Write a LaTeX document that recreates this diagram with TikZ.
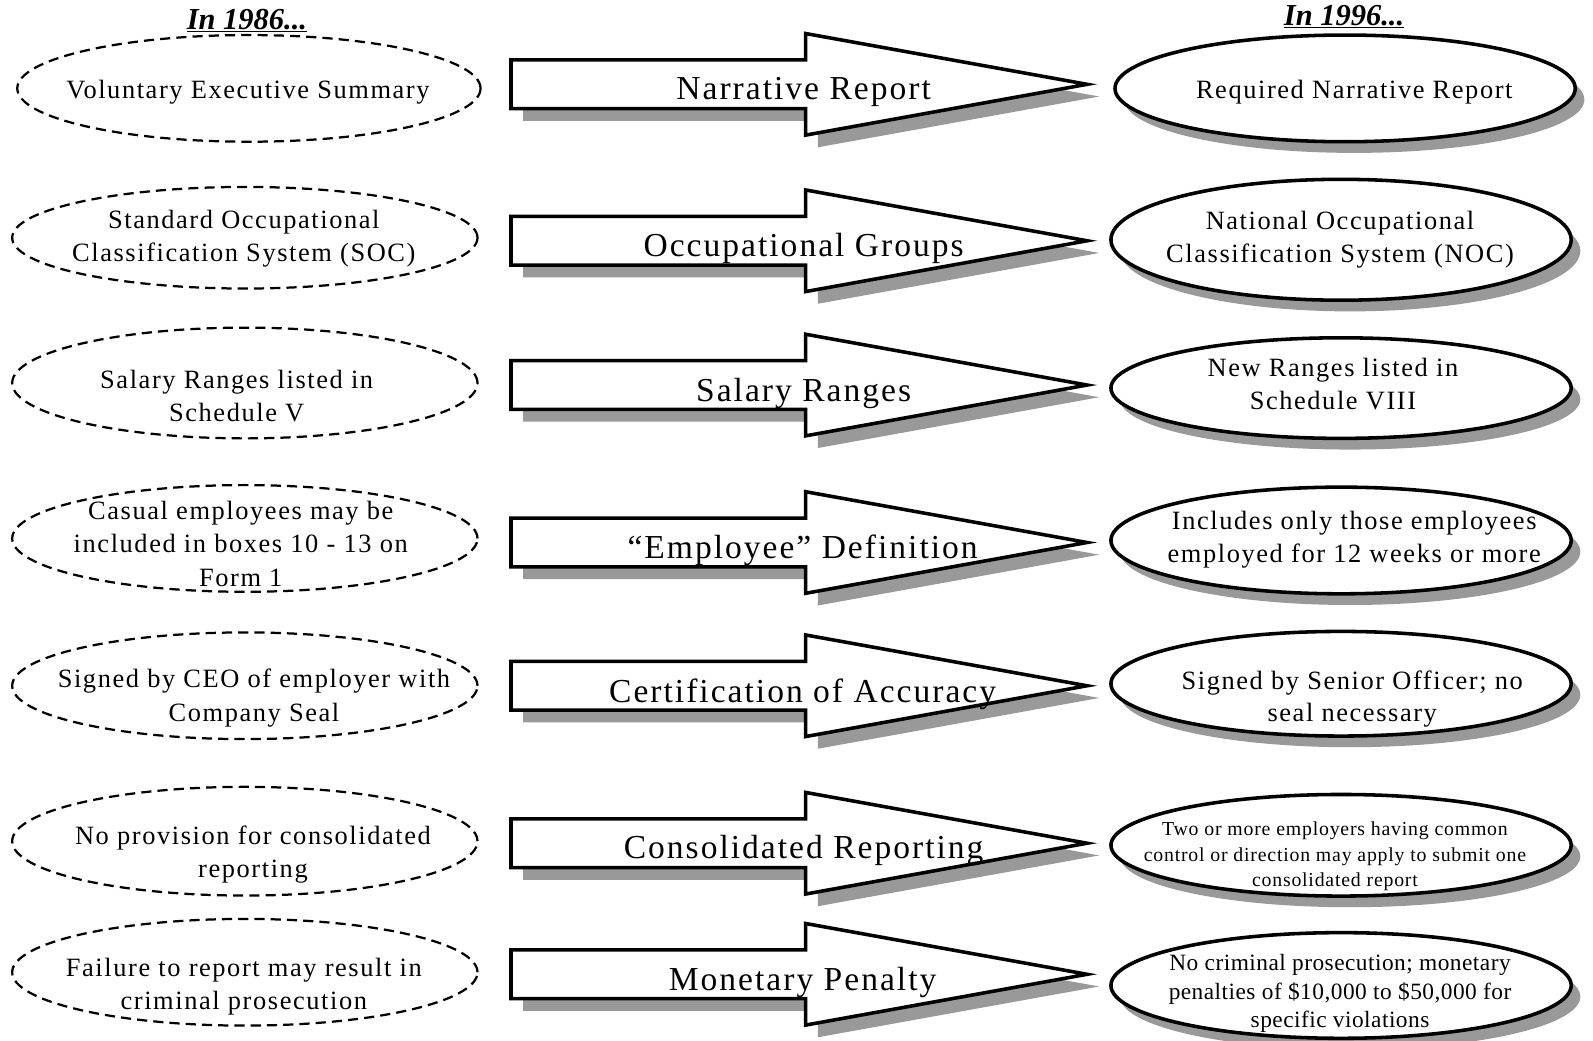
\documentclass[tikz,border=0pt]{standalone}
\usepackage{fontspec}
\setmainfont{Liberation Serif}
\usetikzlibrary{shapes.geometric,shadows}

\begin{document}
\begin{tikzpicture}[x=1pt,y=-1pt,
  oldring/.style={ellipse,draw,dash pattern=on 10pt off 6pt,line width=2.2pt,inner sep=0pt},
  newring/.style={ellipse,draw,fill=white,line width=3.5pt,inner sep=0pt,
    drop shadow={shadow xshift=9pt,shadow yshift=-11pt,fill=gray!80,opacity=1}},
  changearrow/.style={draw,fill=white,line width=3.5pt,
    drop shadow={shadow xshift=12pt,shadow yshift=-12pt,fill=gray!80,opacity=1}},
  oldtext/.style={align=center,inner sep=0pt,yshift=-3pt,font=\fontsize{26}{33}\selectfont\addfontfeatures{LetterSpace=6}},
  newtext/.style={align=center,inner sep=0pt,yshift=-3pt,font=\fontsize{26}{32}\selectfont\addfontfeatures{LetterSpace=6}},
  arrowtext/.style={inner sep=0pt,yshift=-3pt,font=\fontsize{33}{34}\selectfont\addfontfeatures{LetterSpace=6}},
  yeartext/.style={inner sep=0pt,font=\fontsize{30}{31}\selectfont\bfseries\itshape}]
\useasboundingbox (0,0) rectangle (1568,1024);
%
\node[yeartext] (then) at (243,20) {\underline{In 1986...}};
\node[yeartext] (now) at (1323,16) {\underline{In 1996...}};
%
\node[oldring,minimum width=456pt,minimum height=105pt] (o1) at (245,87) {};
\node[oldring,minimum width=458pt,minimum height=100pt] (o2) at (241,234) {};
\node[oldring,minimum width=458pt,minimum height=109pt] (o3) at (241,377) {};
\node[oldring,minimum width=458pt,minimum height=105pt] (o4) at (241,530) {};
\node[oldring,minimum width=458pt,minimum height=105pt] (o5) at (241,675) {};
\node[oldring,minimum width=458pt,minimum height=107pt] (o6) at (241,828) {};
\node[oldring,minimum width=458pt,minimum height=105pt] (o7) at (241,957) {};
%
\node[oldtext] (ot1) at (244,88) {Voluntary Executive Summary};
\node[oldtext] (ot2) at (240,232) {Standard Occupational\\Classification System (SOC)};
\node[oldtext] (ot3) at (233,387) {Salary Ranges listed in\\Schedule V};
\node[oldtext] (ot4) at (237,532) {Casual employees may be\\included in boxes 10 - 13 on\\Form 1};
\node[oldtext] (ot5) at (250,684) {Signed by CEO of employer with\\Company Seal};
\node[oldtext] (ot6) at (249,838) {No provision for consolidated\\reporting};
\node[oldtext] (ot7) at (240,968) {Failure to report may result in\\criminal prosecution};
%
\draw[changearrow,shift={(0,83)}] (503,-24)--(793,-24)--(793,-50)--(1070,0)--(793,50)--(793,24)--(503,24)--cycle;
\draw[changearrow,shift={(0,237)}] (503,-24)--(793,-24)--(793,-50)--(1070,0)--(793,50)--(793,24)--(503,24)--cycle;
\draw[changearrow,shift={(0,379)}] (503,-24)--(793,-24)--(793,-50)--(1070,0)--(793,50)--(793,24)--(503,24)--cycle;
\draw[changearrow,shift={(0,534)}] (503,-24)--(793,-24)--(793,-50)--(1070,0)--(793,50)--(793,24)--(503,24)--cycle;
\draw[changearrow,shift={(0,675)}] (503,-24)--(793,-24)--(793,-50)--(1070,0)--(793,50)--(793,24)--(503,24)--cycle;
\draw[changearrow,shift={(0,830)}] (503,-24)--(793,-24)--(793,-50)--(1070,0)--(793,50)--(793,24)--(503,24)--cycle;
\draw[changearrow,shift={(0,959)}] (503,-24)--(793,-24)--(793,-50)--(1070,0)--(793,50)--(793,24)--(503,24)--cycle;
%
\node[arrowtext] (a1) at (791,88) {Narrative Report};
\node[arrowtext] (a2) at (791,242) {Occupational Groups};
\node[arrowtext] (a3) at (791,384) {Salary Ranges};
\node[arrowtext] (a4) at (790,539) {``Employee'' Definition};
\node[arrowtext] (a5) at (790,680) {Certification of Accuracy};
\node[arrowtext] (a6) at (791,834) {Consolidated Reporting};
\node[arrowtext] (a7) at (790,964) {Monetary Penalty};
%
\node[newring,minimum width=453pt,minimum height=105pt] (n1) at (1324,87) {};
\node[newring,minimum width=453pt,minimum height=119pt] (n2) at (1320,236) {};
\node[newring,minimum width=453pt,minimum height=99pt] (n3) at (1320,382) {};
\node[newring,minimum width=453pt,minimum height=105pt] (n4) at (1320,532) {};
\node[newring,minimum width=453pt,minimum height=103pt] (n5) at (1320,673) {};
\node[newring,minimum width=453pt,minimum height=100pt] (n6) at (1320,832) {};
\node[newring,minimum width=453pt,minimum height=104pt] (n7) at (1320,970) {};
%
\node[newtext] (nt1) at (1333,88) {Required Narrative Report};
\node[newtext] (nt2) at (1319,233) {National Occupational\\Classification System (NOC)};
\node[newtext] (nt3) at (1312,375) {New Ranges listed in\\Schedule VIII};
\node[newtext] (nt4) at (1333,528) {Includes only those employees\\employed for 12 weeks or more};
\node[newtext] (nt5) at (1331,685) {Signed by Senior Officer; no\\seal necessary};
\node[newtext,font=\fontsize{19.5}{25}\selectfont\addfontfeatures{LetterSpace=4}] (nt6) at (1314,840) {Two or more employers having common\\control or direction may apply to submit one\\consolidated report};
\node[newtext,font=\fontsize{23}{28}\selectfont\addfontfeatures{LetterSpace=2}] (nt7) at (1319,975) {No criminal prosecution; monetary\\penalties of \$10,000 to \$50,000 for\\specific violations};
\end{tikzpicture}
\end{document}
